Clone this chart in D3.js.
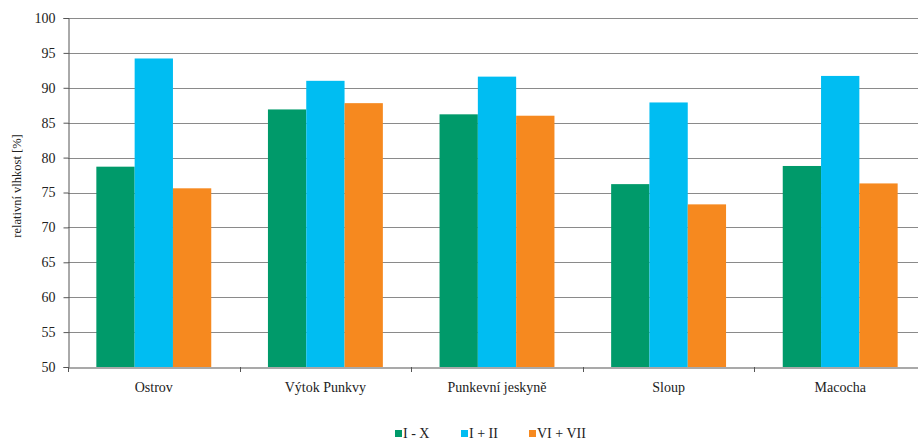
<!DOCTYPE html>
<html>
<head>
<meta charset="utf-8">
<script src="https://cdn.jsdelivr.net/npm/d3@7"></script>
<style>
  html, body { margin: 0; padding: 0; background: #fff; }
  svg { display: block; }
  text { font-family: "Liberation Serif", "Times New Roman", serif; fill: #222; }
</style>
</head>
<body>
<svg id="chart" width="918" height="441"></svg>
<script>
// Sites (x categories)
const categories = ["Ostrov", "Výtok Punkvy", "Punkevní jeskyně", "Sloup", "Macocha"];
// Series names
const seriesNames = ["I - X", "I + II", "VI + VII"];
// Mean relative humidity [%] per series
const valuesIX = [78.7, 86.9, 86.2, 76.2, 78.8];
const valuesIII = [94.2, 91.0, 91.6, 87.9, 91.7];
const valuesVIVII = [75.6, 87.8, 86.0, 73.3, 76.3];
const seriesColors = ["#009a6a", "#00bdf2", "#f6891f"];
const yTicks = [50, 55, 60, 65, 70, 75, 80, 85, 90, 95, 100];

const seriesValues = [valuesIX, valuesIII, valuesVIVII];

const svg = d3.select("#chart");
const mLeft = 68, mTop = 18, mBottom = 367, mRight = 926;

const x = d3.scaleBand().domain(categories).range([mLeft, mRight]).paddingInner(0).paddingOuter(0);
const x1 = d3.scaleBand().domain(seriesNames).range([0, x.bandwidth()]).paddingInner(0).paddingOuter(0.74);
const y = d3.scaleLinear().domain([50, 100]).range([mBottom, mTop]);

// horizontal gridlines
svg.append("g")
  .selectAll("line")
  .data(yTicks.filter(t => t > 50))
  .join("line")
  .attr("x1", mLeft).attr("x2", mRight)
  .attr("y1", d => Math.round(y(d)) + 0.5).attr("y2", d => Math.round(y(d)) + 0.5)
  .attr("stroke", "#8a8a8a").attr("stroke-width", 1.2);

// bars
const groups = svg.append("g")
  .selectAll("g")
  .data(categories)
  .join("g")
  .attr("transform", d => `translate(${x(d)},0)`);

groups.selectAll("rect")
  .data((c, i) => seriesNames.map((s, k) => ({ s, v: seriesValues[k][i], k })))
  .join("rect")
  .attr("x", d => x1(d.s))
  .attr("width", x1.bandwidth())
  .attr("y", d => y(d.v))
  .attr("height", d => y(50) - y(d.v))
  .attr("fill", d => seriesColors[d.k]);

// y axis
const yAxis = svg.append("g")
  .attr("transform", `translate(${mLeft + 0.5},0)`)
  .call(d3.axisLeft(y).tickValues(yTicks).tickSize(5).tickPadding(8));
yAxis.select(".domain").attr("stroke", "#555");
yAxis.selectAll(".tick line").attr("stroke", "#555");
yAxis.selectAll("text").attr("font-size", 14).attr("fill", "#222");

// x axis
const xAxis = svg.append("g")
  .attr("transform", `translate(0,${mBottom + 0.5})`)
  .call(d3.axisBottom(x).tickSize(0).tickPadding(15));
xAxis.select(".domain").attr("stroke", "#555").attr("stroke-width", 1.2);
xAxis.selectAll("text").attr("font-size", 14).attr("fill", "#222");

// category separator ticks
svg.append("g")
  .selectAll("line")
  .data(categories)
  .join("line")
  .attr("x1", d => Math.round(x(d)) + 0.5).attr("x2", d => Math.round(x(d)) + 0.5)
  .attr("y1", mBottom).attr("y2", mBottom + 5)
  .attr("stroke", "#555");

// y axis title
svg.append("text")
  .attr("transform", `translate(21,186) rotate(-90)`)
  .attr("text-anchor", "middle")
  .attr("font-size", 12.5)
  .text("relativní vlhkost [%]");

// legend
const legendX = [395, 461, 529];
const legend = svg.append("g")
  .selectAll("g")
  .data(seriesNames)
  .join("g")
  .attr("transform", (d, i) => `translate(${legendX[i]},430)`);
legend.append("rect").attr("width", 7).attr("height", 7).attr("fill", (d, i) => seriesColors[i]);
legend.append("text").attr("x", 8).attr("y", 8).attr("font-size", 14).text(d => d);
</script>
</body>
</html>
